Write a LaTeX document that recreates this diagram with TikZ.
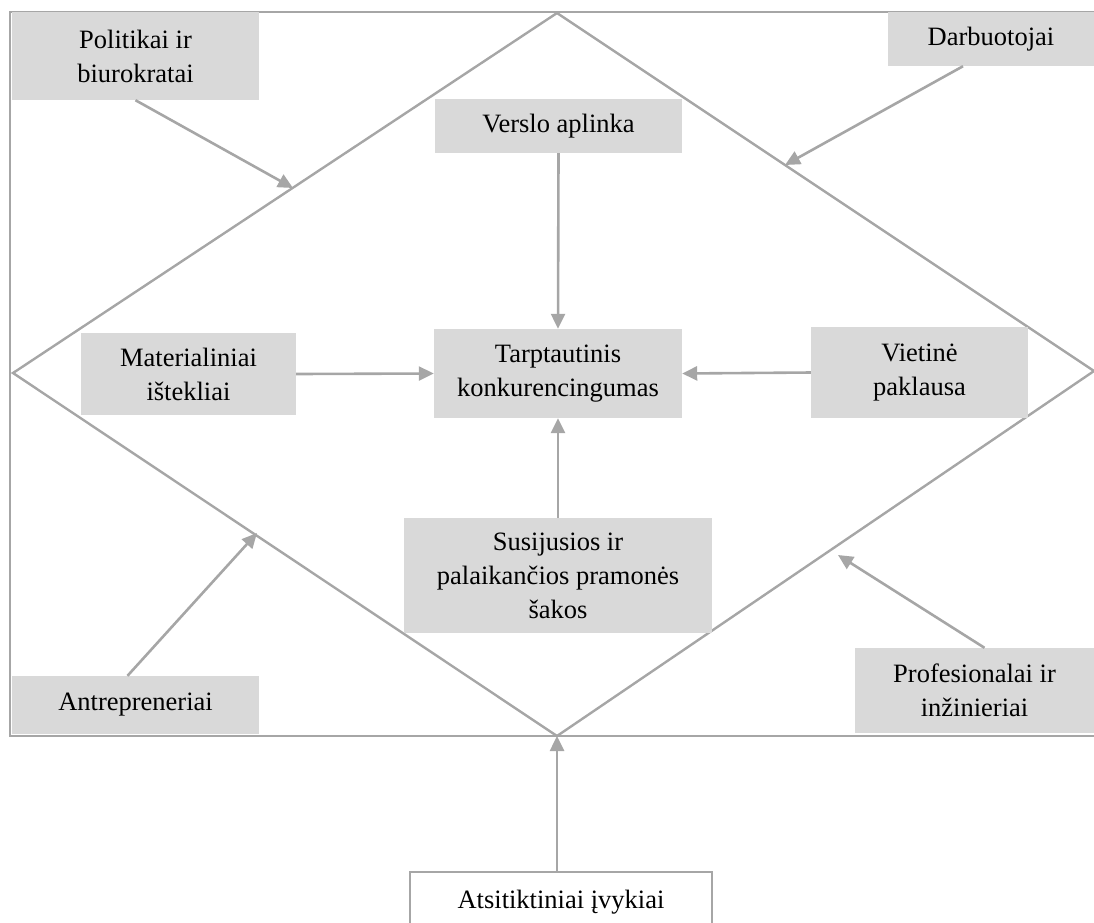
\documentclass[tikz,border=0pt]{standalone}
\usepackage{fontspec}
\setmainfont{Liberation Serif}
\usetikzlibrary{arrows.meta, positioning}
\definecolor{boxgray}{HTML}{D9D9D9}
\definecolor{linegray}{HTML}{A6A6A6}

\begin{document}
\begin{tikzpicture}[x=1pt, y=-1pt, >={Triangle[length=15pt, width=14pt]},
    frame line/.style={draw=linegray, line width=2.4pt},
    arr/.style={->, draw=linegray, fill=linegray, line width=2.6pt},
    box node/.style={fill=boxgray, align=center, inner sep=0pt, font=\fontsize{26.5}{34}\selectfont},
    white node/.style={box node, fill=white, draw=linegray, line width=1.4pt}]

    \useasboundingbox (0,0) rectangle (1094,922);

    % Frame and diamond
    \draw[frame line] (1094,12) -- (10,12) -- (10,736) -- (1094,736);
    \coordinate (dtop) at (557,13);
    \coordinate (dleft) at (13,373);
    \coordinate (dbot) at (557,736);
    \coordinate (dright) at (1094,371);
    \draw[frame line] (dtop) -- (dleft) -- (dbot) -- (dright) -- cycle;

    % Nodes
    \node[box node, minimum width=247pt, minimum height=88pt] (pol) at (135.5,56) {Politikai ir\\biurokratai};
    \node[box node, minimum width=206pt, minimum height=54pt] (darb) at (991,39) {Darbuotojai};
    \node[box node, minimum width=247pt, minimum height=54pt] (versl) at (558.5,126) {Verslo aplinka};
    \node[box node, minimum width=248pt, minimum height=89pt] (tarp) at (558,373.5) {Tarptautinis\\konkurencingumas};
    \node[box node, minimum width=215pt, minimum height=82pt] (mat) at (188.5,374) {Materialiniai\\i\v{s}tekliai};
    \node[box node, minimum width=217pt, minimum height=91pt] (viet) at (919.5,372.5) {Vietin\.{e}\\paklausa};
    \node[box node, minimum width=308pt, minimum height=115pt] (susi) at (558,575.5) {Susijusios ir\\palaikan\v{c}ios pramon\.{e}s\\\v{s}akos};
    \node[box node, minimum width=247pt, minimum height=58pt] (antr) at (135.5,705) {Antrepreneriai};
    \node[box node, minimum width=239pt, minimum height=85pt] (prof) at (974.5,690.5) {Profesionalai ir\\in\v{z}inieriai};
    \node[white node, minimum width=302pt, minimum height=60pt] (ats) at (561,902) {Atsitiktiniai \k{i}vykiai};

    % Arrow ends on the diamond
    \coordinate (polend) at (293,188);
    \coordinate (darbend) at (785,165);
    \coordinate (antrend) at (257,533);
    \coordinate (profend) at (838,555);

    % Arrows
    \draw[arr] (pol.south) -- (polend);
    \draw[arr] ([xshift=-28pt]darb.south) -- (darbend);
    \draw[arr] (versl.south) -- (tarp.north);
    \draw[arr] (mat.east) -- (tarp.west);
    \draw[arr] (viet.west) -- (tarp.east);
    \draw[arr] (susi.north) -- (tarp.south);
    \draw[arr] ([xshift=-8pt]antr.north) -- (antrend);
    \draw[arr] ([xshift=10pt]prof.north) -- (profend);
    \draw[arr] (ats.north -| dbot) -- (dbot);

\end{tikzpicture}
\end{document}
